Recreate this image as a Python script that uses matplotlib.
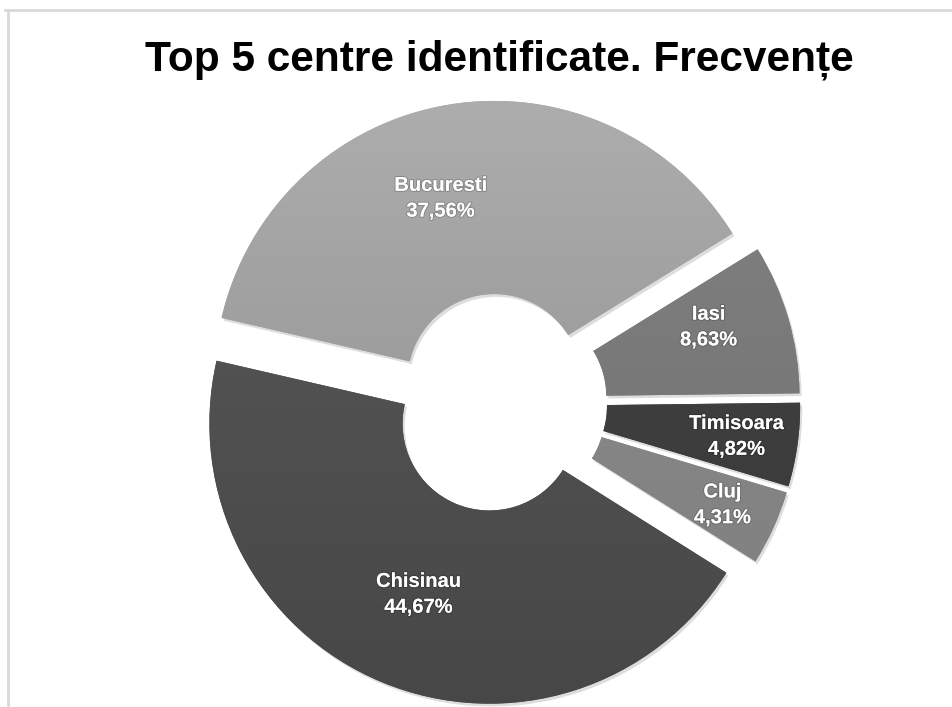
import numpy as np
import matplotlib
matplotlib.use("Agg")
import matplotlib.pyplot as plt
import matplotlib.patheffects as pe
from matplotlib.lines import Line2D

# date
orase = ["Bucuresti", "Iasi", "Timisoara", "Cluj", "Chisinau"]
procente = [37.56, 8.63, 4.82, 4.31, 44.67]

# culori (sus, jos) pentru gradient
culori_sus = ["#adadad", "#828282", "#444444", "#8e8e8e", "#585858"]
culori_jos = ["#8c8c8c", "#6e6e6e", "#383838", "#7e7e7e", "#474747"]
dist_eticheta = [0.68, 0.72, 0.78, 0.80, 0.66]
unghi_extra = [7, 4, 0, 0, 0]

fonturi = ["Liberation Sans", "DejaVu Sans"]

W, H = 953, 707
fig = plt.figure(figsize=(W / 100, H / 100), dpi=100)
fig.patch.set_facecolor("white")

# chenar gri (doar sus si stanga vizibile)
fig.add_artist(Line2D([5 / W, 1], [1 - 9.5 / H] * 2, color="#d9d9d9", lw=2))
fig.add_artist(Line2D([8 / W] * 2, [0, 1 - 9.5 / H], color="#d9d9d9", lw=2))

fig.text(499 / W, 1 - 71 / H, "Top 5 centre identificate. Frecvențe",
         ha="center", va="baseline", fontsize=30.5, fontweight="bold",
         family=fonturi, color="black")

R = 280
cx, cy = 498, 403
lim = 1.1
ax = fig.add_axes([(cx - lim * R) / W, (H - cy - lim * R) / H,
                   2 * lim * R / W, 2 * lim * R / H])
ax.set_xlim(-lim, lim)
ax.set_ylim(-lim, lim)
ax.set_aspect("equal")
ax.axis("off")

wedges, _ = ax.pie(procente, startangle=167, counterclock=False,
                   explode=[0.08] * len(procente),
                   wedgeprops=dict(width=0.69, linewidth=0),
                   colors=culori_sus)

umbra = [pe.SimplePatchShadow(offset=(1.5, -2), alpha=0.18, shadow_rgbFace="#444444"),
         pe.Normal()]

for w, c1, c2, nume, val, d, da in zip(wedges, culori_sus, culori_jos, orase,
                                       procente, dist_eticheta, unghi_extra):
    w.set_path_effects(umbra)
    # gradient vertical in interiorul felii
    x0, y0 = w.center
    t = np.linspace(0, 1, 256)[:, None]
    a = np.array(matplotlib.colors.to_rgb(c1))
    b = np.array(matplotlib.colors.to_rgb(c2))
    grad = (a * (1 - t)[..., None] + b * t[..., None]) * np.ones((1, 2, 1))
    im = ax.imshow(grad, extent=[x0 - 1, x0 + 1, y0 - 1, y0 + 1],
                   origin="upper", aspect="auto", zorder=2)
    im.set_clip_path(w)

    ang = np.deg2rad((w.theta1 + w.theta2) / 2 + da)
    tx = x0 + d * np.cos(ang)
    ty = y0 + d * np.sin(ang)
    eticheta = f"{nume}\n{val:.2f}%".replace(".", ",")
    ax.text(tx, ty, eticheta, ha="center", va="center", color="white",
            fontsize=14.5, fontweight="bold", family=fonturi,
            linespacing=1.45, zorder=5,
            path_effects=[pe.withStroke(linewidth=1.5, foreground="#00000030")])

ax.set_xlim(-lim, lim)
ax.set_ylim(-lim, lim)

fig.savefig("out.png", dpi=100)
